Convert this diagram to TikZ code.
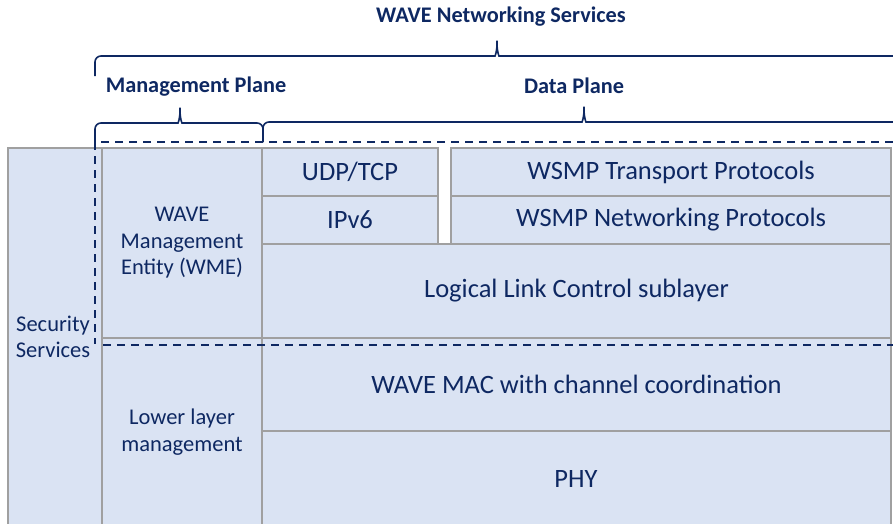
\documentclass[tikz,border=0pt]{standalone}
\usepackage{fontspec}
\setmainfont{Carlito}
\definecolor{navy}{RGB}{14,40,98}
\definecolor{boxfill}{RGB}{218,227,243}
\definecolor{boxgray}{RGB}{160,160,160}
\begin{document}
\begin{tikzpicture}[x=1pt,y=-1pt,
  box/.style={draw=boxgray, fill=boxfill, line width=1.2pt, inner sep=0pt, outer sep=0pt,
    anchor=north west, text=navy, font=\fontsize{26.5}{30}\selectfont, align=center},
  small/.style={text=navy, font=\fontsize{22.5}{26.5}\selectfont, align=center, inner sep=0pt},
  head/.style={text=navy, font=\bfseries\fontsize{22.3}{26}\selectfont, inner sep=0pt},
  brace/.style={draw=navy, line width=1.6pt, rounded corners=6pt},
  dline/.style={draw=navy, line width=1.8pt, dash pattern=on 8pt off 6pt}]
\useasboundingbox (0,0) rectangle (893,523);
% boxes
\node[box, minimum width=94pt, minimum height=390pt] (sec) at (8,148) {};
\node[box, minimum width=160pt, minimum height=190pt] (wme) at (102,148) {};
\node[box, minimum width=160pt, minimum height=200pt] (llm) at (102,338) {};
\node[box, minimum width=176pt, minimum height=48pt] (udp) at (262,148) {UDP/TCP};
\node[box, minimum width=176pt, minimum height=48pt] (ipv6) at (262,196) {IPv6};
\node[box, minimum width=440pt, minimum height=48pt] (wsmpt) at (451,148) {WSMP Transport Protocols};
\node[box, minimum width=440pt, minimum height=48pt] (wsmpn) at (451,196) {WSMP Networking Protocols};
\node[box, minimum width=629pt, minimum height=94pt] (llc) at (262,244) {Logical Link Control sublayer};
\node[box, minimum width=629pt, minimum height=93pt] (mac) at (262,338) {WAVE MAC with channel coordination};
\node[box, minimum width=629pt, minimum height=100pt] (phy) at (262,431) {};
\node[text=navy, font=\fontsize{26.5}{30}\selectfont, inner sep=0pt] (phyt) at (576,479) {PHY};
% texts
\node[small] (sect) at (53,337) {Security\\Services};
\node[small] (wmet) at (182,243) {WAVE\\Management\\Entity (WME)};
\node[small] (llmt) at (182,432) {Lower layer\\management};
% dashed lines
\coordinate (d1) at (95,142);
\coordinate (d2) at (893,142);
\coordinate (d3) at (95,344);
\coordinate (d4) at (103,345);
\coordinate (d5) at (893,345);
\draw[dline] (d2) -- (d1) -- (d3);
\draw[dline] (d4) -- (d5);
% headings
\node[head] (wns) at (501,17) {WAVE Networking Services};
\node[head] (mp) at (196,87) {Management Plane};
\node[head] (dp) at (574,86) {Data Plane};
% braces
\draw[brace] (95,76) -- (95,56) -- (489,56) .. controls (495,56) and (497,52) .. (497,37)
  .. controls (497,52) and (499,56) .. (505,56) -- (905,56);
\draw[brace] (95,142) -- (95,123) -- (172,123) .. controls (178,123) and (180,119) .. (180,104)
  .. controls (180,119) and (182,123) .. (188,123) -- (263,123) -- (263,142);
\draw[brace] (263,142) -- (263,122) -- (576,122) .. controls (582,122) and (584,118) .. (584,103)
  .. controls (584,118) and (586,122) .. (592,122) -- (905,122);
\end{tikzpicture}
\end{document}
